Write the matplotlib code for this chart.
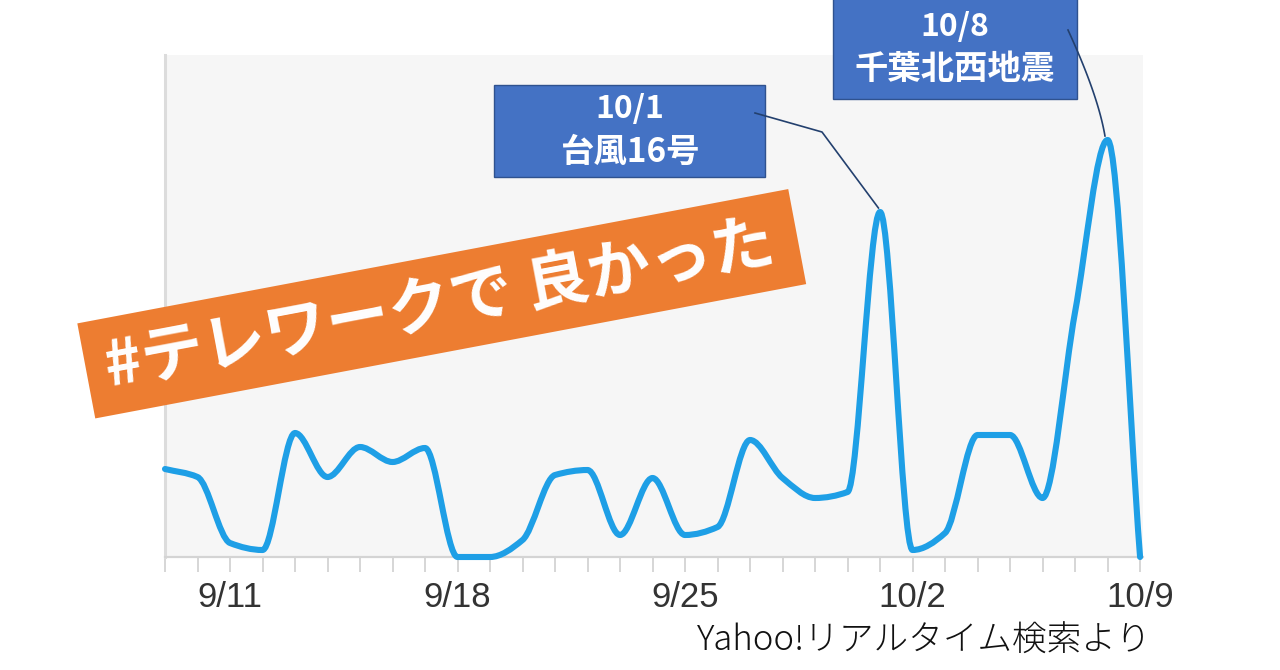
import numpy as np
import matplotlib
matplotlib.use('Agg')
import matplotlib.pyplot as plt
import matplotlib.transforms as mtransforms
from matplotlib.path import Path
from matplotlib.patches import PathPatch, Rectangle
from matplotlib.lines import Line2D

# ---------------- data ----------------
dates = ['9/9', '9/10', '9/11', '9/12', '9/13', '9/14', '9/15', '9/16', '9/17',
         '9/18', '9/19', '9/20', '9/21', '9/22', '9/23', '9/24', '9/25', '9/26',
         '9/27', '9/28', '9/29', '9/30', '10/1', '10/2', '10/3', '10/4', '10/5',
         '10/6', '10/7', '10/8', '10/9']
values = [88, 80, 14, 7, 124, 80, 110, 95, 109,
          0, 0, 17, 82, 87, 22, 79, 22, 30,
          117, 79, 59, 65, 345, 7, 24, 122, 122,
          59, 245, 417, 0]
tick_labels = ['9/11', '9/18', '9/25', '10/2', '10/9']
annot_dates = ['10/1', '10/8']
annot_labels = ['台風16号', '千葉北西地震']
banner_text = '#テレワークで 良かった'
source_text = 'Yahoo!リアルタイム検索より'

W, H = 1280, 670
fig = plt.figure(figsize=(W / 100, H / 100), dpi=100)
fig.patch.set_facecolor('white')

# axes placed by pixel bounds (left, top, right, bottom)
L, T, R, B = 165, 55, 1143, 557
ax = fig.add_axes([L / W, (H - B) / H, (R - L) / W, (B - T) / H])
ax.set_facecolor('#f6f6f6')

x = np.arange(len(dates), dtype=float)
y = np.array(values, dtype=float)

# monotone cubic (Fritsch-Carlson) tangents -> Bezier path
h = np.diff(x)
d = np.diff(y) / h
m = np.zeros_like(y)
m[0] = d[0]
m[-1] = d[-1]
for i in range(1, len(y) - 1):
    if d[i - 1] * d[i] <= 0:
        m[i] = 0.0
    else:
        w1 = 2 * h[i] + h[i - 1]
        w2 = h[i] + 2 * h[i - 1]
        m[i] = (w1 + w2) / (w1 / d[i - 1] + w2 / d[i])

verts = [(x[0], y[0])]
codes = [Path.MOVETO]
for i in range(len(x) - 1):
    hh = h[i]
    verts += [(x[i] + hh / 3, y[i] + m[i] * hh / 3),
              (x[i + 1] - hh / 3, y[i + 1] - m[i + 1] * hh / 3),
              (x[i + 1], y[i + 1])]
    codes += [Path.CURVE4] * 3
line = PathPatch(Path(verts, codes), facecolor='none', edgecolor='#1E9FE6',
                 lw=4.4, transform=ax.transData, clip_on=False, zorder=5,
                 capstyle='round', joinstyle='round')
ax.add_patch(line)

ax.set_xlim(0, 30.09)
ax.set_ylim(0, 502)

ax.set_xticks(x)
ax.set_xticklabels([dt if dt in tick_labels else '' for dt in dates],
                   fontsize=25, family='Liberation Sans', color='#333333')
ax.tick_params(axis='x', length=11, width=1.2, color='#d0d0d0', pad=6)
ax.set_yticks([])
for s in ['top', 'right']:
    ax.spines[s].set_visible(False)
ax.spines['left'].set_color('#dcdcdc')
ax.spines['left'].set_linewidth(2.2)
ax.spines['bottom'].set_color('#d4d4d4')
ax.spines['bottom'].set_linewidth(1.6)

# pixel transform (top-down pixel coordinates)
px = mtransforms.Affine2D().scale(1 / W, -1 / H).translate(0, 1) + fig.transFigure


def data_px(xi, yi):
    dx, dy = ax.transData.transform((xi, yi))
    return dx, H - dy


jp = ['Noto Sans CJK JP', 'DejaVu Sans']
box_fc = '#4472C4'
box_ec = '#2F528F'
conn_c = '#23406E'

# annotation 1 (10/1)
i1 = dates.index(annot_dates[0])
fig.patches.append(Rectangle((494, 85), 271, 92, transform=px, facecolor=box_fc,
                             edgecolor=box_ec, lw=1.0, zorder=10))
fig.text(629.5, 109, annot_dates[0], transform=px, ha='center', va='center',
         color='white', fontsize=23, fontweight='bold', family=jp, zorder=11)
fig.text(629.5, 152, annot_labels[0], transform=px, ha='center', va='center',
         color='white', fontsize=24, fontweight='bold', family=jp, zorder=11)
ex, ey = data_px(x[i1] - 0.05, y[i1] + 4)
fig.add_artist(Line2D([755, 822, ex], [113, 132, ey], transform=px, color=conn_c,
                      lw=1.2, zorder=12))

# annotation 2 (10/8)
i2 = dates.index(annot_dates[1])
fig.patches.append(Rectangle((833, -2), 244, 101, transform=px, facecolor=box_fc,
                             edgecolor=box_ec, lw=1.0, zorder=10))
fig.text(955, 27, annot_dates[1], transform=px, ha='center', va='center',
         color='white', fontsize=23, fontweight='bold', family=jp, zorder=11)
fig.text(955, 69, annot_labels[1], transform=px, ha='center', va='center',
         color='white', fontsize=24, fontweight='bold', family=jp, zorder=11)
ex2, ey2 = data_px(x[i2] - 0.08, y[i2] + 4)
t = np.linspace(0, 1, 30)
p0 = np.array([1068, 30]); p1 = np.array([1098, 95]); p2 = np.array([ex2, ey2])
cx = (1 - t) ** 2 * p0[0] + 2 * (1 - t) * t * p1[0] + t ** 2 * p2[0]
cy = (1 - t) ** 2 * p0[1] + 2 * (1 - t) * t * p1[1] + t ** 2 * p2[1]
fig.add_artist(Line2D(cx, cy, transform=px, color=conn_c, lw=1.2, zorder=12))

# orange banner (rotated)
ang = 10.7
ccx, ccy = 441.75, H - 303.75  # display coords (y up)
bw, bh = 723.5, 96.7
rot = mtransforms.Affine2D().rotate_deg_around(ccx, ccy, ang)
fig.patches.append(Rectangle((ccx - bw / 2, ccy - bh / 2), bw, bh, transform=rot,
                             facecolor='#ED7D31', edgecolor='none', zorder=13))

renderer = fig.canvas.get_renderer()


def fit(tobj, target):
    for _ in range(4):
        w = tobj.get_window_extent(renderer).width
        tobj.set_fontsize(tobj.get_fontsize() * target / w)


bt = fig.text(ccx / W - 0.002, ccy / H - 0.004, banner_text, ha='center', va='center',
              color='white', fontsize=44, fontweight='bold', family=jp, zorder=14)
fit(bt, 680)
bt.set_rotation(ang)
bt.set_rotation_mode('anchor')

st = fig.text(697, 641, source_text, transform=px, ha='left', va='center',
              color='#111111', fontsize=24, fontweight='light', family=jp)
fit(st, 455)

fig.savefig('out.png', dpi=100)
